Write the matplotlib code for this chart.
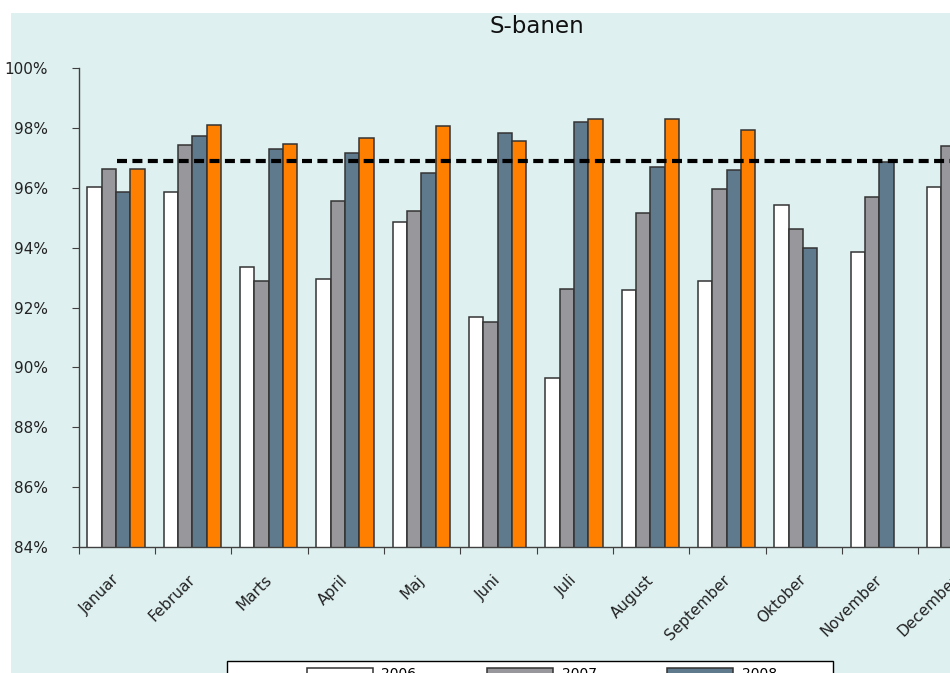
import numpy as np
import matplotlib
matplotlib.use("Agg")
import matplotlib.pyplot as plt
from matplotlib.patches import Rectangle

# data (percent on time)
months = ["Januar", "Februar", "Marts", "April", "Maj", "Juni", "Juli",
          "August", "September", "Oktober", "November", "December"]
years = ["2006", "2007", "2008", "2009"]
y2006 = [96.04, 95.85, 93.36, 92.94, 94.87, 91.67, 89.65, 92.60, 92.90, 95.42, 93.86, 96.02]
y2007 = [96.63, 97.44, 92.90, 95.56, 95.21, 91.51, 92.61, 95.17, 95.97, 94.63, 95.68, 97.40]
y2008 = [95.85, 97.74, 97.28, 97.16, 96.48, 97.83, 98.20, 96.68, 96.59, 94.00, 96.87, np.nan]
y2009 = [96.63, 98.08, 97.45, 97.65, 98.07, 97.57, 98.29, 98.29, 97.94, np.nan, np.nan, np.nan]
target = [96.9] * 12
yticks = np.arange(84, 101, 2)

colors = ["#ffffff", "#98989c", "#5f7a8c", "#ff8000"]
bg = "#dff0f0"
W, H = 950, 673

fig = plt.figure(figsize=(W / 100, H / 100), dpi=100)
fig.patches.append(Rectangle((11 / W, -0.1), 1.0, 1.1 - 13 / H, transform=fig.transFigure,
                             facecolor=bg, edgecolor="none", zorder=-3))
# legend frame (mostly cut off at the bottom of the picture)
fig.patches.append(Rectangle((227 / W, -0.1), 606 / W, 0.1 + (673 - 661) / H,
                             transform=fig.transFigure, facecolor="white",
                             edgecolor="black", lw=1.0, zorder=-2))

ax = fig.add_axes([78.5 / W, 1 - 547 / H, 916 / W, 479 / H])
ax.set_facecolor("none")

x = np.arange(len(months))
w = 0.188
series = [y2006, y2007, y2008, y2009]
bars = []
for i, (vals, col) in enumerate(zip(series, colors)):
    b = ax.bar(x + (i - 1.5) * w - 0.008, vals, width=w, color=col,
               edgecolor="#333333", linewidth=1.1, label=years[i], zorder=2)
    bars.append(b)

ax.plot(x, target, color="black", lw=3.0, ls=(0, (2.4, 1.3)), zorder=3)

ax.set_xlim(-0.5, 11.5)
ax.set_ylim(84, 100)
ax.set_yticks(yticks)
ax.set_yticklabels([f"{v:.0f}%" for v in yticks])
ax.set_xticks(np.arange(-0.5, 12, 1.0))
ax.set_xticklabels([])
ax.set_xticks(x, minor=True)
ax.set_xticklabels(months, minor=True, rotation=45, ha="right", va="center",
                   rotation_mode="anchor", fontsize=11, color="#222222")
ax.tick_params(axis="x", which="minor", length=0, pad=22)
ax.tick_params(axis="x", which="major", length=5, direction="out", color="#404040")
ax.tick_params(axis="y", length=5, direction="out", color="#404040",
               labelsize=11, labelcolor="#222222", pad=17)

for s in ["top", "right"]:
    ax.spines[s].set_visible(False)
for s in ["left", "bottom"]:
    ax.spines[s].set_color("#404040")
    ax.spines[s].set_linewidth(1.0)

ax.set_title("S-banen", fontsize=16.5, pad=25, color="#111111")

# legend fills column by column; order so the first row reads 2006, 2007, 2008
order = [0, 3, 1, 2]
fig.legend(handles=[bars[i] for i in order], labels=[years[i] for i in order],
           ncol=3, frameon=False, fontsize=10,
           loc="upper left", bbox_to_anchor=(300 / W, 1 - 660 / H),
           borderpad=0, handlelength=4.75, handleheight=0.7,
           handletextpad=0.6, columnspacing=5.1)

fig.savefig("out.png", dpi=100)
